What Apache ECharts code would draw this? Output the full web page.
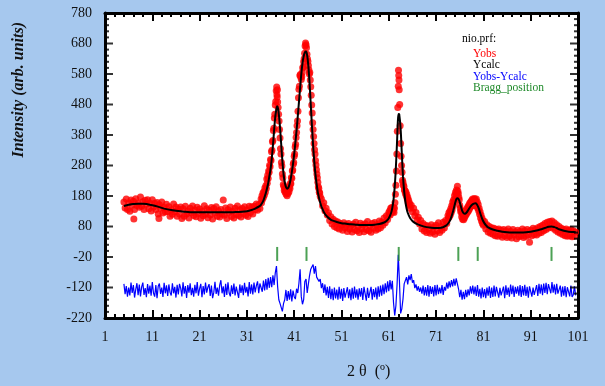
<!DOCTYPE html>
<html><head><meta charset="utf-8">
<script src="https://cdn.jsdelivr.net/npm/echarts/dist/echarts.min.js"></script>
<style>html,body{margin:0;padding:0;background:#a6c8ee}#c{width:605px;height:386px}</style>
</head><body><div id="c"></div>
<script>
// observed intensity (x = 2theta, y = counts)
const yobs = [
[5,160],[5.25,141],[5.5,170],[5.75,136],[6,157],[6.25,130],[6.5,167],[6.75,150],[7,163],[7.1,105],[7.25,136],[7.5,171],[7.75,149],
[8,157],[8.25,143],[8.5,177],[8.75,146],[9,161],[9.25,136],[9.5,166],[9.75,153],[10,168],[10.25,138],[10.5,156],[10.75,131],
[11,168],[11.25,144],[11.5,156],[11.75,136],[12,159],[12.25,121],[12.4,106],[12.5,151],[12.75,140],[13,160],[13.25,124],[13.5,142],[13.75,128],
[14,153],[14.25,129],[14.5,145],[14.75,114],[15,135],[15.25,120],[15.5,154],[15.75,128],[16,144],[16.25,114],[16.5,137],[16.75,121],
[17,144],[17.25,106],[17.5,138],[17.75,114],[18,146],[18.25,121],[18.5,131],[18.75,108],[19,140],[19.25,125],[19.5,147],[19.75,116],
[20,134],[20.25,112],[20.5,143],[20.75,123],[21,137],[21.25,107],[21.5,129],[21.75,115],[22,148],[22.25,120],[22.5,138],[22.75,109],
[23,133],[23.25,118],[23.5,142],[23.75,105],[24,139],[24.25,124],[24.5,145],[24.75,114],[25,132],[25.25,111],[25.5,136],[25.75,121],
[26,167],[26.25,117],[26.5,141],[26.75,106],[27,135],[27.25,126],[27.5,144],[27.75,113],[28,130],[28.25,108],[28.5,140],[28.75,119],
[29,147],[29.25,116],[29.5,134],[29.75,111],[30,139],[30.25,123],[30.5,145],[30.75,117],[31,134],[31.25,113],[31.5,146],[31.75,126],
[32,144],[32.25,121],[32.5,146],[32.75,135],[33,154],[33.25,133],[33.5,151],[33.75,139],
[34,170],[34.1,158],[34.2,181],[34.3,169],[34.4,190],[34.5,176],[34.6,195],[34.7,183],[34.8,206],[34.9,192],
[35,214],[35.1,205],[35.2,236],[35.3,222],[35.4,248],[35.5,237],[35.6,262],[35.7,258],[35.8,281],[35.9,276],
[36,300],[36.1,296],[36.2,325],[36.3,330],[36.4,358],[36.5,362],[36.6,395],[36.7,402],[36.8,436],[36.9,448],
[37,478],[37.1,490],[37.2,525],[37.3,537],[37.35,512],[37.4,505],[37.45,528],[37.5,488],[37.6,470],[37.7,448],[37.8,426],[37.9,398],
[38,370],[38.1,335],[38.2,318],[38.3,290],[38.4,278],[38.5,252],[38.6,240],[38.7,218],[38.8,212],[38.9,198],
[39,205],[39.1,192],[39.2,200],[39.3,186],[39.4,198],[39.5,181],[39.6,196],[39.7,188],[39.8,202],[39.9,194],
[40,210],[40.1,205],[40.2,222],[40.3,220],[40.4,241],[40.5,238],[40.6,262],[40.7,265],[40.8,284],[40.9,290],
[41,310],[41.1,318],[41.2,341],[41.3,350],[41.4,372],[41.5,388],[41.6,410],[41.7,426],[41.8,458],[41.9,502],
[42,530],[42.1,540],[42.2,575],[42.3,578],[42.4,570],[42.5,562],[42.6,572],[42.7,585],[42.8,600],[42.9,604],
[43,620],[43.1,630],[43.2,648],[43.3,672],[43.4,682],[43.5,676],[43.6,666],[43.7,645],[43.8,630],[43.9,622],
[44,608],[44.1,594],[44.2,580],[44.3,585],[44.4,560],[44.5,538],[44.6,510],[44.7,478],[44.8,452],[44.9,420],
[45,398],[45.1,375],[45.2,352],[45.3,332],[45.4,318],[45.5,296],[45.6,282],[45.7,266],[45.8,252],[45.9,240],
[46,225],[46.1,210],[46.2,205],[46.3,192],[46.4,190],[46.5,178],
[46.75,170],[47,148],[47.25,158],[47.5,132],[47.75,140],[48,118],[48.25,125],[48.5,100],[48.75,112],[49,88],[49.25,104],[49.5,80],[49.75,98],
[50,76],[50.25,95],[50.5,72],[50.75,90],[51,85],[51.25,68],[51.5,92],[51.75,75],[52,86],[52.25,64],[52.5,90],[52.75,72],
[53,83],[53.25,62],[53.5,88],[53.75,70],[54,94],[54.25,66],[54.5,80],[54.75,60],[55,91],[55.25,73],[55.5,85],[55.75,63],
[56,89],[56.25,70],[56.5,96],[56.75,66],[57,82],[57.25,61],[57.5,90],[57.75,74],[58,93],[58.25,68],[58.5,86],[58.75,72],
[59,98],[59.25,76],[59.5,95],[59.75,84],[60,108],[60.25,92],[60.5,115],[60.75,103],[61,126],
[61.1,120],[61.2,132],[61.3,118],[61.4,140],[61.5,128],[61.6,142],[61.7,130],[61.8,136],[61.9,128],
[62,142],[62.1,126],[62.2,140],[62.3,158],[62.4,186],[62.5,215],[62.6,262],[62.7,318],[62.8,392],[62.9,470],
[63,540],[63.05,592],[63.1,575],[63.15,560],[63.2,528],[63.3,480],[63.4,410],[63.5,352],[63.6,310],[63.7,280],[63.8,258],[63.9,232],
[64,225],[64.1,215],[64.2,212],[64.3,200],[64.4,198],[64.5,188],[64.6,194],[64.7,180],[64.8,186],[64.9,170],
[65,176],[65.1,158],[65.2,166],[65.3,150],[65.4,156],[65.5,140],
[65.75,150],[66,128],[66.25,140],[66.5,115],[66.75,126],[67,102],[67.25,110],[67.5,88],[67.75,100],
[68,72],[68.25,90],[68.5,65],[68.75,84],[69,60],[69.25,82],[69.5,70],[69.75,58],[70,86],[70.25,62],[70.5,78],[70.75,55],
[71,84],[71.25,66],[71.5,92],[71.75,60],[72,80],[72.25,68],[72.5,94],[72.75,75],[73,100],[73.25,90],[73.5,115],
[73.6,108],[73.7,125],[73.8,112],[73.9,130],[74,118],[74.1,138],[74.2,126],[74.3,148],[74.4,135],[74.5,160],
[74.6,148],[74.7,168],[74.8,160],[74.9,182],[75,170],[75.1,192],[75.2,184],[75.3,200],[75.4,190],[75.5,212],
[75.6,196],[75.7,188],[75.8,176],[75.9,168],[76,150],[76.1,140],[76.2,128],[76.3,132],[76.4,112],[76.5,122],
[76.6,104],[76.7,118],[76.8,102],[76.9,120],[77,108],[77.1,126],[77.2,115],[77.3,132],[77.4,120],[77.5,138],
[77.6,126],[77.7,144],[77.8,130],[77.9,150],[78,136],[78.1,156],[78.2,142],[78.3,160],[78.4,146],[78.5,165],
[78.6,150],[78.7,170],[78.8,152],[78.9,168],[79,150],[79.1,172],[79.2,155],[79.3,166],[79.4,148],[79.5,170],
[79.6,146],[79.7,160],[79.8,140],[79.9,152],[80,132],[80.1,140],[80.2,120],[80.3,128],[80.4,108],[80.5,118],
[80.6,98],[80.7,108],[80.8,90],[80.9,100],[81,84],
[81.25,96],[81.5,72],[81.75,86],[82,62],[82.25,80],[82.5,58],[82.75,76],[83,55],[83.25,74],[83.5,50],[83.75,70],
[84,48],[84.25,72],[84.5,52],[84.75,68],[85,45],[85.25,70],[85.5,50],[85.75,66],[86,44],[86.25,72],[86.5,48],[86.75,64],
[87,42],[87.25,70],[87.5,52],[87.75,62],[88,40],[88.25,68],[88.5,46],[88.75,64],[89,50],[89.25,72],[89.5,44],[89.75,66],
[90,48],[90.25,70],[90.5,52],[90.75,28],[91,68],[91.25,50],[91.5,74],[91.75,54],[92,70],[92.25,52],[92.5,76],[92.75,58],
[93,80],[93.25,60],[93.5,84],[93.75,66],[94,90],[94.25,70],[94.5,94],[94.75,75],[95,96],[95.25,78],[95.5,98],[95.75,74],
[96,92],[96.25,68],[96.5,86],[96.75,62],[97,80],[97.25,58],[97.5,74],[97.75,54],[98,70],[98.25,50],[98.5,72],[98.75,48],
[99,68],[99.25,50],[99.5,70],[99.75,46],[100,66],[100.25,48],[100.5,62]
];
// calculated profile
const ycalc = [
[5,147],[6,151],[7,154],[8,155],[8.5,155],[9,155],[10,153],[11,150],[12,146],[13,141],[14,137],[15,134],[16,132],[17,130],[18,128],
[19,127],[20,127],[22,127],[24,127],[26,127],[28,127],[29,127.5],[30,128],[31,130],[32,134],[32.5,137],[33,141],[33.5,145],[34,152],
[34.5,166],[35,190],[35.25,205],[35.5,222],[35.75,245],[36,268],[36.25,302],[36.5,345],[36.75,395],[37,440],[37.2,462],[37.4,474],
[37.6,466],[37.8,440],[38,405],[38.25,350],[38.5,295],[38.75,252],[39,225],[39.25,210],[39.5,204],[39.75,207],[40,218],[40.25,235],
[40.5,258],[40.75,285],[41,318],[41.25,355],[41.5,395],[41.75,440],[42,487],[42.25,535],[42.5,580],[42.75,615],[43,638],[43.25,651],
[43.5,654],[43.75,640],[44,605],[44.25,550],[44.5,480],[44.75,410],[45,345],[45.25,292],[45.5,250],[45.75,218],[46,192],[46.5,158],
[47,136],[47.5,121],[48,112],[48.5,105],[49,100],[50,95],[51,91],[52,89],[53,87],[54,86],[55,85],[57,85],[58,86],[59,88],[60,93],
[60.5,98],[61,107],[61.5,125],[61.75,142],[62,168],[62.25,210],[62.5,275],[62.75,360],[62.9,420],[63.05,449],[63.2,448],[63.5,400],
[63.75,320],[64,245],[64.25,195],[64.5,162],[64.75,140],[65,125],[65.5,108],[66,98],[66.5,92],[67,88],[68,82],[69,78],[70,76],
[71,75],[72,76],[72.5,78],[73,82],[73.5,89],[74,102],[74.5,125],[75,155],[75.3,170],[75.6,173],[75.9,165],[76.2,148],[76.5,132],
[76.8,124],[77.1,122],[77.4,125],[77.8,134],[78.2,144],[78.6,151],[79,155],[79.3,156],[79.6,153],[80,140],[80.4,120],[80.8,103],
[81.2,91],[81.6,83],[82,77],[83,70],[84,66],[85,63],[86,61],[87,60],[89,60],[90,61],[91,63],[92,66],[93,70],[94,75],[94.8,79],
[95.4,80],[96,78],[96.5,75],[97,71],[98,66],[99,63],[100,62],[100.5,61]
];
// difference curve Yobs - Ycalc (offset), sampled from 5 in steps of 0.25
const diffStart = 5, diffStep = 0.25;
const ydiff = [
-108,-142,-115,-150, -120,-146,-104,-138, -112,-153,-126,-106, -145,-110,-149,-118, -104,-144,-122,-152,
-109,-140,-114,-147, -102,-138,-150,-112, -155,-116,-107,-141, -120,-151,-105,-139, -113,-148,-110,-136,
-146,-106,-139,-118, -153,-111,-143,-108, -122,-149,-103,-140, -115,-154,-112,-137, -106,-145,-121,-150,
-111,-139,-102,-147, -124,-108,-152,-115, -143,-104,-137,-119, -109,-148,-114,-155, -136,-101,-141,-120,
-147,-112,-96,-139, -116,-151,-108,-144, -103,-138,-149,-113, -141,-107,-146,-117, -122,-154,-110,-138,
-113,-145,-105,-137, -118,-149,-102,-140, -110,-143,-104,-136, -114,-100,-139,-107, -103,-134,-97,-130,
-92,-127,-88,-121, -86,-119,-80,-112, -72,-50,-118,-160, -172,-185,-198,-172, -160,-128,-164,-132,
-160,-126,-166,-130, -150,-158,-124,-138, -106,-60,-150,-175, -160,-100,-92,-138, -108,-80,-60,-52,
-45,-75,-50,-86, -82,-100,-92,-122, -106,-138,-110,-146, -118,-154,-116,-158, -124,-162,-120,-156,
-127,-160,-118,-157, -124,-164,-122,-153, -159,-119,-155,-126, -162,-121,-157,-117, -153,-126,-160,-123,
-150,-122,-161,-118, -124,-163,-121,-154, -158,-118,-160,-125, -152,-120,-159,-116, -150,-114,-147,-110,
-142,-106,-136,-100, -132,-96,-126,-98, -170,-212,-180,-110, -13,-100,-205,-190, -158,-108,-112,-86,
-110,-80,-96,-76, -104,-96,-122,-110, -130,-116,-134,-120, -140,-114,-146,-119, -147,-112,-150,-115,
-141,-118,-149,-112, -146,-111,-142,-120, -139,-112,-144,-118, -130,-104,-124,-100, -120,-96,-116,-92,
-114,-90,-108,-125, -152,-128,-160,-134, -158,-128,-152,-126, -146,-116,-140,-114, -143,-117,-148,-112,
-150,-124,-156,-120, -152,-125,-155,-120, -147,-116,-154,-120, -151,-114,-149,-118, -112,-153,-121,-146,
-148,-117,-155,-113, -144,-120,-150,-110, -142,-114,-151,-118, -140,-116,-147,-112, -151,-115,-146,-111,
-148,-118,-153,-116, -113,-150,-120,-144, -143,-112,-148,-108, -140,-110,-145,-107, -138,-105,-142,-109,
-106,-139,-102,-137, -110,-143,-108,-140, -145,-114,-150,-117, -147,-115,-152,-119, -117,-149,-114,-151,
-144,-116,-146
];
const braggPos = [37.4, 43.6, 63.1, 75.7, 79.8, 95.4];
const braggLevel = -10;
// y tick values (major every 100 from -220, minor every 20)
const yMajorTicks = [-220, -120, -20, 80, 180, 280, 380, 480, 580, 680, 780];
const yMinorTicks = [-200,-180,-160,-140,-100,-80,-60,-40,0,20,40,60,100,120,140,160,200,220,240,260,300,320,340,360,
  400,420,440,460,500,520,540,560,600,620,640,660,700,720,740,760];
const legendTitle = 'nio.prf:';
const legendItems = ['Yobs', 'Ycalc', 'Yobs-Ycalc', 'Bragg_position'];
const legendColors = ['#ff0000', '#000000', '#0000ff', '#1f8a2a'];

const W = 605, H = 386, gL = 105, gR = 27, gT = 13, gB = 68;
const chart = echarts.init(document.getElementById('c'), null, {renderer: 'canvas'});
const serif = '"Liberation Serif","Times New Roman",serif';
const diffData = ydiff.map((v, i) => [diffStart + i * diffStep, v]);
const braggData = braggPos.map(x => [x, braggLevel]);

function xAx(pos, labels, interval, len, showLine) {
  return {type: 'value', position: pos, min: 1, max: 101, interval: interval,
    axisLine: {show: showLine, onZero: false, lineStyle: {color: '#000', width: 3}},
    axisTick: {show: true, inside: true, length: len, lineStyle: {color: '#000', width: 2}},
    splitLine: {show: false},
    axisLabel: {show: labels, margin: 12, color: '#111', fontFamily: serif, fontSize: 14}};
}
function yAx(pos, labels) {
  return {type: 'value', position: pos, min: -220, max: 780, interval: 100,
    axisLine: {show: true, onZero: false, lineStyle: {color: '#000', width: 3}},
    axisTick: {show: false},
    splitLine: {show: false},
    axisLabel: {show: labels, margin: 13, color: '#111', fontFamily: serif, fontSize: 14}};
}
function tickSeries(vals, xEdge, len, width, dir) {
  return {type: 'scatter', data: vals.map(v => [xEdge, v]), symbol: 'rect', symbolSize: [len, width],
    symbolOffset: [dir * len / 2, 0], itemStyle: {color: '#000'}, clip: false, silent: true, z: 6};
}

const graphics = [
  {type: 'rect', shape: {x: gL, y: gT, width: W - gL - gR, height: H - gT - gB}, style: {fill: '#ffffff'}, z: -10},
  {type: 'text', left: 11, top: 22, rotation: Math.PI / 2, style: {text: 'Intensity (arb. units)', fill: '#111',
    font: 'italic bold 16px ' + serif}},
  {type: 'text', left: 347, top: 364, style: {text: '2 θ  (º)', fill: '#111', font: '16px ' + serif}},
  {type: 'text', left: 462, top: 33, style: {text: legendTitle, fill: '#000', font: '11.5px ' + serif}}
];
legendItems.forEach((t, i) => {
  graphics.push({type: 'text', left: 473, top: 48 + i * 11.3, style: {text: t, fill: legendColors[i], font: '11.5px ' + serif}});
});

chart.setOption({
  animation: false,
  backgroundColor: '#a6c8ee',
  grid: {left: gL, right: gR, top: gT, bottom: gB, show: false},
  xAxis: [xAx('bottom', true, 10, 8, true), xAx('top', false, 10, 8, true),
          xAx('bottom', false, 2, 4, false), xAx('top', false, 2, 4, false)],
  yAxis: [yAx('left', true), yAx('right', false)],
  graphic: graphics,
  series: [
    {type: 'scatter', name: 'Yobs', data: yobs, symbol: 'circle', symbolSize: 7,
      itemStyle: {color: '#ff0000'}, z: 2},
    {type: 'line', name: 'Ycalc', data: ycalc, showSymbol: false, smooth: 0.3,
      lineStyle: {color: '#000', width: 2}, z: 3},
    {type: 'line', name: 'Yobs-Ycalc', data: diffData, showSymbol: false,
      lineStyle: {color: '#0000ff', width: 1.2}, z: 3},
    {type: 'scatter', name: 'Bragg_position', data: braggData, symbol: 'rect', symbolSize: [2, 14],
      itemStyle: {color: '#1f8a2a'}, z: 3},
    tickSeries(yMajorTicks, 1, 8, 2, 1),
    tickSeries(yMajorTicks, 101, 8, 2, -1),
    tickSeries(yMinorTicks, 1, 4, 2, 1),
    tickSeries(yMinorTicks, 101, 4, 2, -1)
  ]
});
</script></body></html>
